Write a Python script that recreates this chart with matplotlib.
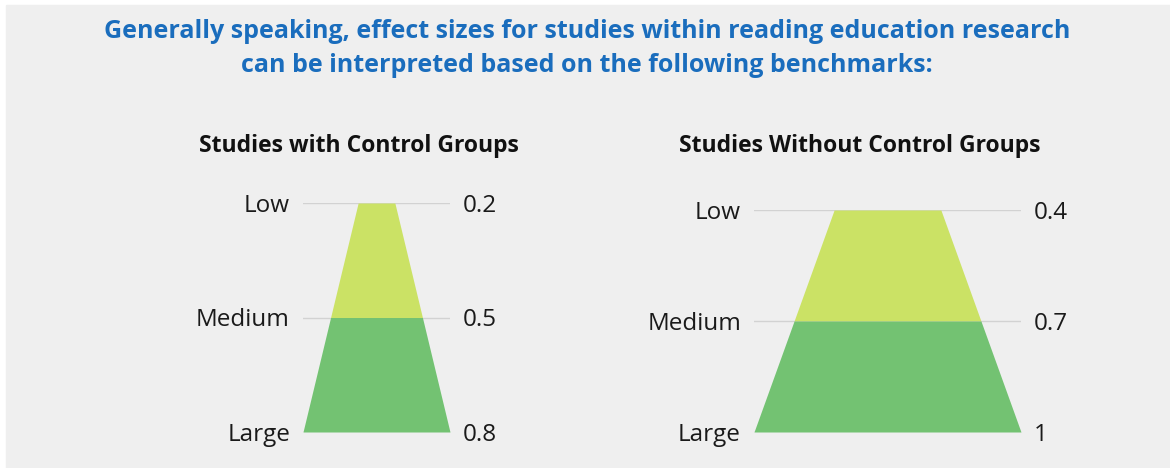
import matplotlib.pyplot as plt

# data
levels = ['Low', 'Medium', 'Large']
with_ctrl = [0.2, 0.5, 0.8]
without_ctrl = [0.4, 0.7, 1.0]
value_labels_with = ['0.2', '0.5', '0.8']
value_labels_without = ['0.4', '0.7', '1']

W, H = 1170, 468
bg = '#efefef'
c_top = '#cbe265'
c_bot = '#73c272'

fig = plt.figure(figsize=(W / 100, H / 100), dpi=100)
fig.patch.set_facecolor('white')
# gray panel
fig.add_artist(plt.Rectangle((6 / W, 0), 1 - 6 / W, 1 - 5 / H,
                             transform=fig.transFigure, color=bg, zorder=0))

fig.text(587 / W, 1 - 32 / H,
         'Generally speaking, effect sizes for studies within reading education research',
         ha='center', va='center', fontsize=18, fontweight='bold',
         color='#1a6dbd', family='Open Sans')
fig.text(587 / W, 1 - 65 / H,
         'can be interpreted based on the following benchmarks:',
         ha='center', va='center', fontsize=18, fontweight='bold',
         color='#1a6dbd', family='Open Sans')


def funnel(x0, x1, ytop, ybot, vals, vlabels, title, title_x):
    ax = fig.add_axes([x0 / W, 1 - ybot / H, (x1 - x0) / W, (ybot - ytop) / H])
    ax.set_facecolor('none')
    ys = list(range(len(vals)))
    m = max(vals)
    ax.set_xlim(-m / 2, m / 2)
    ax.set_ylim(len(vals) - 1, 0)
    for y in ys:
        ax.axhline(y, color='#d2d2d2', lw=1, zorder=1)
    half = [v / 2 for v in vals]
    ax.fill_betweenx(ys[0:2], [-h for h in half[0:2]], half[0:2],
                     color=c_top, lw=0, zorder=2)
    ax.fill_betweenx(ys[1:3], [-h for h in half[1:3]], half[1:3],
                     color=c_bot, lw=0, zorder=2)
    ax.axis('off')
    for y, lab, vl in zip(ys, levels, vlabels):
        ax.annotate(lab, (0, y), xycoords=('axes fraction', 'data'),
                    xytext=(-13, -3), textcoords='offset pixels',
                    ha='right', va='center', fontsize=17.5,
                    family='Open Sans', color='#1a1a1a')
        ax.annotate(vl, (1, y), xycoords=('axes fraction', 'data'),
                    xytext=(13, -3), textcoords='offset pixels',
                    ha='left', va='center', fontsize=17.5,
                    family='Open Sans', color='#1a1a1a')
    fig.text(title_x / W, 1 - 146 / H, title, ha='center', va='center',
             fontsize=16.5, fontweight='bold', family='Open Sans', color='#111111')


funnel(303, 450, 203, 432, with_ctrl, value_labels_with,
       'Studies with Control Groups', 359)
funnel(754, 1021, 210, 432, without_ctrl, value_labels_without,
       'Studies Without Control Groups', 860)

fig.savefig('out.png', dpi=100, facecolor=fig.get_facecolor())
